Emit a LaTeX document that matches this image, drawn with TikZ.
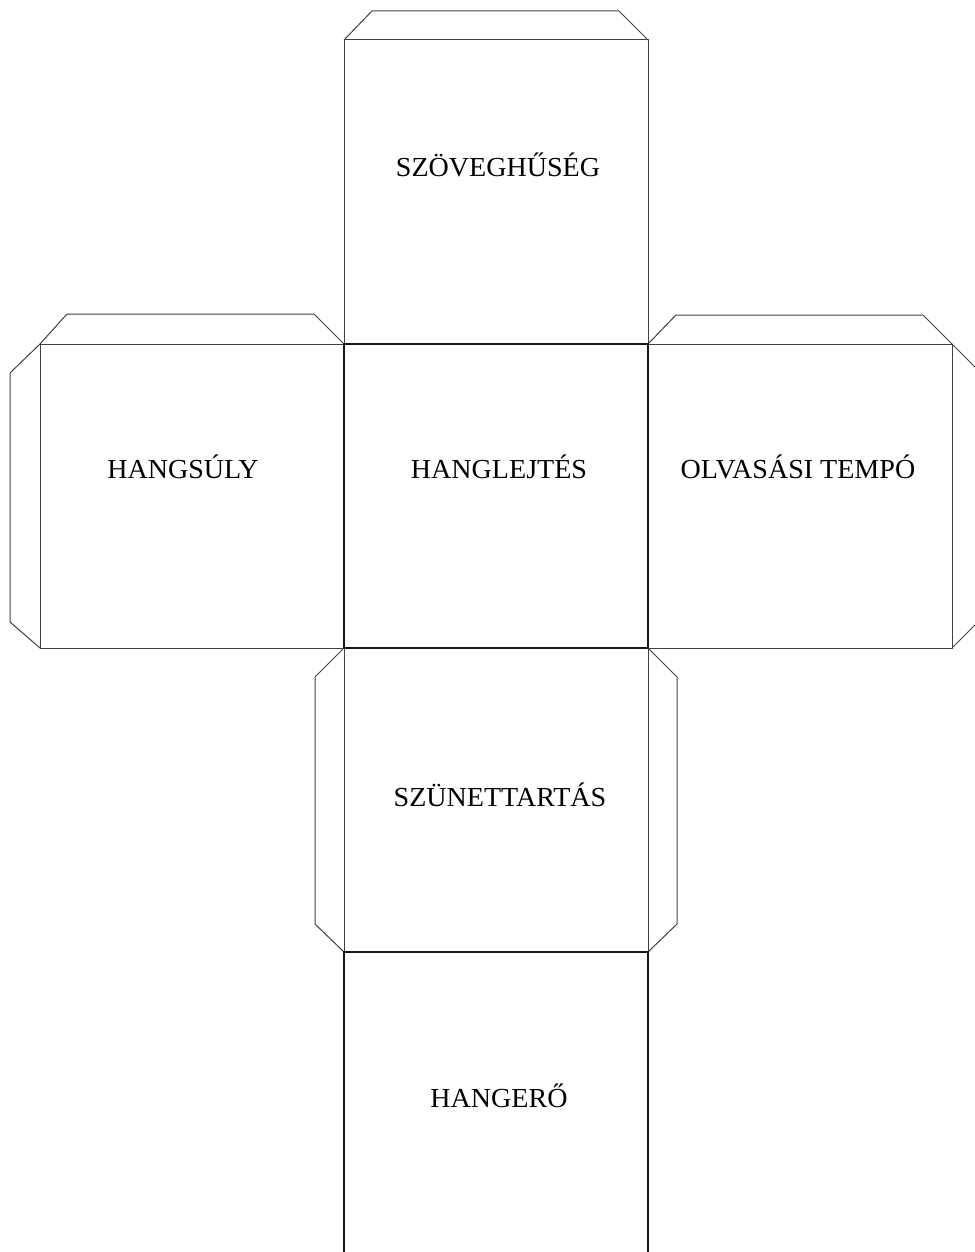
\documentclass[tikz,border=0pt]{standalone}
\usepackage{fontspec}
\setmainfont{Liberation Serif}[FakeStretch=1.02]
\begin{document}
\begin{tikzpicture}[x=1pt,y=-1pt,
  edge/.style={draw=black!75,line width=1pt,line join=miter},
  strong/.style={draw=black!90,line width=1.1pt},
  label/.style={font=\fontsize{27.5}{32}\selectfont,anchor=base,inner sep=0pt,text=black}]
\useasboundingbox (0,0) rectangle (974,1252);
% top face
\draw[edge] (344,344) -- (344,40) -- (648,40) -- (648,344);
\draw[edge] (344,40) -- (372,11) -- (619,11) -- (648,40);
% left face
\draw[edge] (344,344) -- (40,344) -- (40,648) -- (344,648);
\draw[edge] (40,344) -- (67,314) -- (314,314) -- (344,344);
\draw[edge] (40,344) -- (10,373) -- (10,622) -- (40,648);
% right face
\draw[edge] (648,344) -- (952,344) -- (952,648) -- (648,648);
\draw[edge] (648,344) -- (676,315) -- (923,315) -- (952,344);
\draw[edge] (952,344) -- (982,374) -- (982,618) -- (952,648);
% center face
\draw[strong] (344,344) rectangle (648,648);
% lower face
\draw[edge] (344,648) -- (344,952) -- (648,952) -- (648,648);
\draw[edge] (344,648) -- (315,677) -- (315,924) -- (344,952);
\draw[edge] (648,648) -- (677,677) -- (677,924) -- (648,952);
% bottom face
\draw[strong] (344,1260) -- (344,952) -- (648,952) -- (648,1260);
% labels
\node[label] (top) at (498,177) {SZÖVEGHŰSÉG};
\node[label] (left) at (183,478) {HANGSÚLY};
\node[label] (center) at (499,478) {HANGLEJTÉS};
\node[label] (right) at (798,478) {OLVASÁSI TEMPÓ};
\node[label] (lower) at (500,806) {SZÜNETTARTÁS};
\node[label] (bottom) at (499,1107) {HANGERŐ};
\end{tikzpicture}
\end{document}
